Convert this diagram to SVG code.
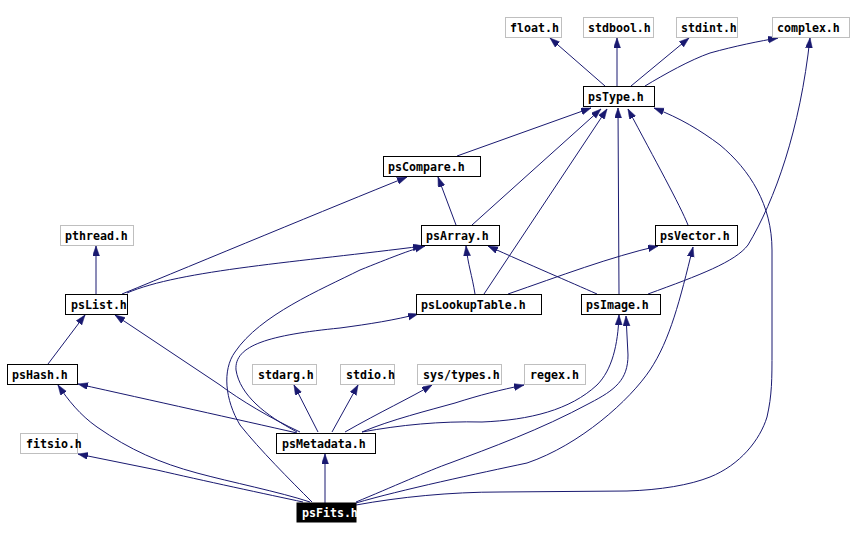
<svg xmlns="http://www.w3.org/2000/svg" width="853" height="541" viewBox="0 0 853 541">
<style>
.n rect{fill:#fff;stroke:#000;stroke-width:1}
.g rect{stroke:#bfbfbf}
.n text{font-family:"DejaVu Sans Mono","Liberation Mono",monospace;font-size:11.6px;font-weight:bold;fill:#000}
.f rect{fill:#000}
.f text{fill:#fff}
#edges path{fill:none;stroke:#191970;stroke-width:1;marker-end:url(#ah)}
</style>
<defs>
<marker id="ah" markerUnits="userSpaceOnUse" markerWidth="11" markerHeight="8" refX="10" refY="3.5" orient="auto">
<path d="M0,0 L10,3.5 L0,7 z" fill="#191970" stroke="#191970" stroke-width="0.5"/>
</marker>
</defs>
<rect width="853" height="541" fill="#fff"/>
<g id="edges">
<path d="M605,86 L550,38"/>
<path d="M617,86 L617,38"/>
<path d="M631,86 L689,38"/>
<path d="M645,86 C665,74 690,60 710,53 C735,46 760,41 778,38"/>
<path d="M457,156 L591,108"/>
<path d="M472,225 L601,109"/>
<path d="M484,294 L607,109"/>
<path d="M619,294 L618,108"/>
<path d="M688,225 C680,205 655,160 628,109"/>
<path d="M356,505 C400,497 450,492 500,492 L627,491 C660,490 690,485 710,477 C740,465 760,440 767,417 C772,395 772,380 772,350 L772,250 C772,205 750,170 720,145 C700,130 680,118 654,108"/>
<path d="M456,225 L438,177"/>
<path d="M122,294 C200,262 330,208 407,177"/>
<path d="M127,293 C180,270 300,262 423,246"/>
<path d="M96,294 L96,246"/>
<path d="M475,294 C472,275 468,265 466,246"/>
<path d="M597,294 C570,282 530,265 488,246"/>
<path d="M508,294 C560,276 610,257 658,246"/>
<path d="M648,294 C700,275 735,262 748,245 C775,200 800,130 810,38"/>
<path d="M356,503 C400,490 480,473 527,463 C580,445 630,400 650,370 C670,340 680,300 693,247"/>
<path d="M356,502 C390,488 430,470 450,463 C490,448 540,430 590,403 C615,390 628,380 628,355 L626,316"/>
<path d="M362,432 C400,425 440,421 482,422 C530,420 570,410 597,385 C612,370 618,345 619,315"/>
<path d="M362,432 C390,420 430,410 455,403 C480,395 500,390 524,385"/>
<path d="M345,432 C380,412 410,398 432,385"/>
<path d="M332,432 L358,385"/>
<path d="M318,432 L294,385"/>
<path d="M297,433 C240,420 150,400 78,384"/>
<path d="M300,432 C270,418 240,400 220,385 L115,315"/>
<path d="M297,432 C265,415 240,395 236,370 C234,345 270,335 340,328 C370,324 395,320 418,314"/>
<path d="M48,364 L85,315"/>
<path d="M310,502 C280,492 230,482 197,473 C160,463 130,450 97,427 C80,415 68,400 58,385"/>
<path d="M303,502 C270,495 200,480 157,470 L78,454"/>
<path d="M312,502 C290,480 260,450 240,425 C225,400 222,370 235,352 C260,315 320,290 360,270 C390,258 410,250 425,246"/>
<path d="M325,503 L325,454"/>
</g>
<g id="float" class="n g"><rect x="505.5" y="17.5" width="56" height="20"/><text x="510" y="32">float.h</text></g>
<g id="stdbool" class="n g"><rect x="583.5" y="17.5" width="70" height="20"/><text x="588" y="32">stdbool.h</text></g>
<g id="stdint" class="n g"><rect x="676.5" y="17.5" width="61" height="20"/><text x="681" y="32">stdint.h</text></g>
<g id="complex" class="n g"><rect x="772.5" y="17.5" width="77" height="20"/><text x="777" y="32">complex.h</text></g>
<g id="psType" class="n"><rect x="583.5" y="86.5" width="71" height="20"/><text x="588" y="101">psType.h</text></g>
<g id="psCompare" class="n"><rect x="383.5" y="156.5" width="97" height="20"/><text x="388" y="171">psCompare.h</text></g>
<g id="psArray" class="n"><rect x="421.5" y="225.5" width="78" height="20"/><text x="426" y="240">psArray.h</text></g>
<g id="psVector" class="n"><rect x="655.5" y="225.5" width="82" height="20"/><text x="660" y="240">psVector.h</text></g>
<g id="pthread" class="n g"><rect x="60.5" y="225.5" width="73" height="20"/><text x="65" y="240">pthread.h</text></g>
<g id="psList" class="n"><rect x="65.5" y="294.5" width="62" height="20"/><text x="71" y="309">psList.h</text></g>
<g id="psLookupTable" class="n"><rect x="416.5" y="294.5" width="125" height="20"/><text x="421" y="309">psLookupTable.h</text></g>
<g id="psImage" class="n"><rect x="581.5" y="294.5" width="79" height="20"/><text x="586" y="309">psImage.h</text></g>
<g id="psHash" class="n"><rect x="7.5" y="364.5" width="70" height="20"/><text x="12" y="379">psHash.h</text></g>
<g id="stdarg" class="n g"><rect x="252.5" y="364.5" width="64" height="20"/><text x="258" y="379">stdarg.h</text></g>
<g id="stdio" class="n g"><rect x="340.5" y="364.5" width="54" height="20"/><text x="346" y="379">stdio.h</text></g>
<g id="systypes" class="n g"><rect x="417.5" y="364.5" width="84" height="20"/><text x="423" y="379">sys/types.h</text></g>
<g id="regex" class="n g"><rect x="524.5" y="364.5" width="61" height="20"/><text x="530" y="379">regex.h</text></g>
<g id="fitsio" class="n g"><rect x="20.5" y="433.5" width="57" height="20"/><text x="26" y="448">fitsio.h</text></g>
<g id="psMetadata" class="n"><rect x="276.5" y="433.5" width="99" height="20"/><text x="282" y="448">psMetadata.h</text></g>
<g id="psFits" class="n f"><rect x="297" y="503" width="59" height="19"/><text x="302" y="517">psFits.h</text></g>
</svg>
